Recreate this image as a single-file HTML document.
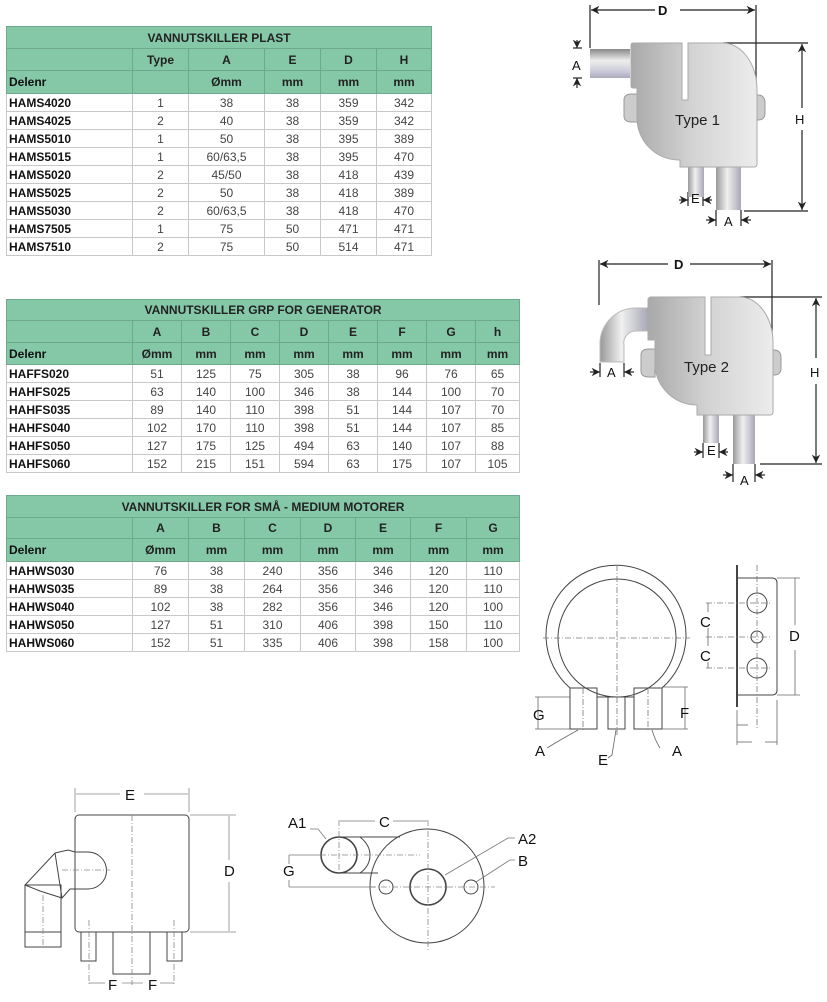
<!DOCTYPE html>
<html><head><meta charset="utf-8"><style>
body{margin:0;width:827px;height:1002px;background:#fff;position:relative;overflow:hidden;font-family:"Liberation Sans",sans-serif}
table{position:absolute;border-collapse:collapse;table-layout:fixed;font-size:12px;color:#222}
td{border:1px solid #c8c8c8;text-align:center;padding:0;line-height:1;white-space:nowrap;overflow:hidden}
tr.t td{background:#85c8a8;font-weight:bold;border-color:#6fa98c}
tr.h td{background:#85c8a8;font-weight:bold;border-color:#6fa98c}
td.n{text-align:left;font-weight:bold;padding-left:2px;color:#111}
tr.d td:not(.n){color:#444}
svg{position:absolute;left:0;top:0}
</style></head><body>

<table style="left:6px;top:26px;width:425px">
<colgroup><col style="width:126px"><col style="width:56px"><col style="width:76px"><col style="width:56px"><col style="width:56px"><col style="width:55px"></colgroup>
<tr class="t" style="height:22px"><td colspan="6">VANNUTSKILLER PLAST</td></tr>
<tr class="h" style="height:22px"><td></td><td>Type</td><td>A</td><td>E</td><td>D</td><td>H</td></tr>
<tr class="h" style="height:23px"><td class="n">Delenr</td><td></td><td>Ømm</td><td>mm</td><td>mm</td><td>mm</td></tr>
<tr class="d" style="height:18px"><td class="n">HAMS4020</td><td>1</td><td>38</td><td>38</td><td>359</td><td>342</td></tr>
<tr class="d" style="height:18px"><td class="n">HAMS4025</td><td>2</td><td>40</td><td>38</td><td>359</td><td>342</td></tr>
<tr class="d" style="height:18px"><td class="n">HAMS5010</td><td>1</td><td>50</td><td>38</td><td>395</td><td>389</td></tr>
<tr class="d" style="height:18px"><td class="n">HAMS5015</td><td>1</td><td>60/63,5</td><td>38</td><td>395</td><td>470</td></tr>
<tr class="d" style="height:18px"><td class="n">HAMS5020</td><td>2</td><td>45/50</td><td>38</td><td>418</td><td>439</td></tr>
<tr class="d" style="height:18px"><td class="n">HAMS5025</td><td>2</td><td>50</td><td>38</td><td>418</td><td>389</td></tr>
<tr class="d" style="height:18px"><td class="n">HAMS5030</td><td>2</td><td>60/63,5</td><td>38</td><td>418</td><td>470</td></tr>
<tr class="d" style="height:18px"><td class="n">HAMS7505</td><td>1</td><td>75</td><td>50</td><td>471</td><td>471</td></tr>
<tr class="d" style="height:18px"><td class="n">HAMS7510</td><td>2</td><td>75</td><td>50</td><td>514</td><td>471</td></tr>
</table>

<table style="left:6px;top:299px;width:513px">
<colgroup><col style="width:126px"><col style="width:49px"><col style="width:49px"><col style="width:49px"><col style="width:49px"><col style="width:49px"><col style="width:49px"><col style="width:49px"><col style="width:44px"></colgroup>
<tr class="t" style="height:21px"><td colspan="9">VANNUTSKILLER GRP FOR GENERATOR</td></tr>
<tr class="h" style="height:22px"><td></td><td>A</td><td>B</td><td>C</td><td>D</td><td>E</td><td>F</td><td>G</td><td>h</td></tr>
<tr class="h" style="height:22px"><td class="n">Delenr</td><td>Ømm</td><td>mm</td><td>mm</td><td>mm</td><td>mm</td><td>mm</td><td>mm</td><td>mm</td></tr>
<tr class="d" style="height:18px"><td class="n">HAFFS020</td><td>51</td><td>125</td><td>75</td><td>305</td><td>38</td><td>96</td><td>76</td><td>65</td></tr>
<tr class="d" style="height:18px"><td class="n">HAHFS025</td><td>63</td><td>140</td><td>100</td><td>346</td><td>38</td><td>144</td><td>100</td><td>70</td></tr>
<tr class="d" style="height:18px"><td class="n">HAHFS035</td><td>89</td><td>140</td><td>110</td><td>398</td><td>51</td><td>144</td><td>107</td><td>70</td></tr>
<tr class="d" style="height:18px"><td class="n">HAHFS040</td><td>102</td><td>170</td><td>110</td><td>398</td><td>51</td><td>144</td><td>107</td><td>85</td></tr>
<tr class="d" style="height:18px"><td class="n">HAHFS050</td><td>127</td><td>175</td><td>125</td><td>494</td><td>63</td><td>140</td><td>107</td><td>88</td></tr>
<tr class="d" style="height:18px"><td class="n">HAHFS060</td><td>152</td><td>215</td><td>151</td><td>594</td><td>63</td><td>175</td><td>107</td><td>105</td></tr>
</table>

<table style="left:6px;top:495px;width:513px">
<colgroup><col style="width:126px"><col style="width:56px"><col style="width:56px"><col style="width:56px"><col style="width:55px"><col style="width:55px"><col style="width:56px"><col style="width:53px"></colgroup>
<tr class="t" style="height:22px"><td colspan="8">VANNUTSKILLER FOR SMÅ - MEDIUM MOTORER</td></tr>
<tr class="h" style="height:21px"><td></td><td>A</td><td>B</td><td>C</td><td>D</td><td>E</td><td>F</td><td>G</td></tr>
<tr class="h" style="height:23px"><td class="n">Delenr</td><td>Ømm</td><td>mm</td><td>mm</td><td>mm</td><td>mm</td><td>mm</td><td>mm</td></tr>
<tr class="d" style="height:18px"><td class="n">HAHWS030</td><td>76</td><td>38</td><td>240</td><td>356</td><td>346</td><td>120</td><td>110</td></tr>
<tr class="d" style="height:18px"><td class="n">HAHWS035</td><td>89</td><td>38</td><td>264</td><td>356</td><td>346</td><td>120</td><td>110</td></tr>
<tr class="d" style="height:18px"><td class="n">HAHWS040</td><td>102</td><td>38</td><td>282</td><td>356</td><td>346</td><td>120</td><td>100</td></tr>
<tr class="d" style="height:18px"><td class="n">HAHWS050</td><td>127</td><td>51</td><td>310</td><td>406</td><td>398</td><td>150</td><td>110</td></tr>
<tr class="d" style="height:18px"><td class="n">HAHWS060</td><td>152</td><td>51</td><td>335</td><td>406</td><td>398</td><td>158</td><td>100</td></tr>
</table>

<svg width="827" height="1002" viewBox="0 0 827 1002" font-family="Liberation Sans, sans-serif">
<defs>
<linearGradient id="bg" x1="0" x2="1"><stop offset="0" stop-color="#a9a9a9"/><stop offset=".5" stop-color="#d4d4d4"/><stop offset="1" stop-color="#ececec"/></linearGradient>
<linearGradient id="pv" x1="0" x2="0" y1="0" y2="1"><stop offset="0" stop-color="#888"/><stop offset=".4" stop-color="#eee"/><stop offset=".8" stop-color="#c8c8d8"/><stop offset="1" stop-color="#aab"/></linearGradient>
<linearGradient id="ph" x1="0" x2="1"><stop offset="0" stop-color="#999"/><stop offset=".45" stop-color="#f0f0f0"/><stop offset="1" stop-color="#a8a8b8"/></linearGradient>
<marker id="ar" viewBox="0 0 10 10" refX="10" refY="5" markerWidth="7" markerHeight="7" orient="auto-start-reverse"><path d="M0,0L10,5L0,10L3,5z" fill="#222"/></marker>
</defs>

<!-- TYPE 1 -->
<g stroke="#222" stroke-width="1.2" fill="none">
<line x1="590" y1="5" x2="590" y2="48"/><line x1="756" y1="5" x2="756" y2="92"/>
<line x1="591" y1="10" x2="655" y2="10" marker-start="url(#ar)"/><line x1="680" y1="10" x2="755" y2="10" marker-end="url(#ar)"/>
<line x1="723" y1="43" x2="808" y2="43"/><line x1="744" y1="211" x2="808" y2="211"/>
<line x1="802" y1="44" x2="802" y2="108" marker-start="url(#ar)"/><line x1="802" y1="130" x2="802" y2="210" marker-end="url(#ar)"/>
<line x1="573" y1="48" x2="582" y2="48"/><line x1="573" y1="78" x2="582" y2="78"/>
<line x1="577" y1="40" x2="577" y2="48" marker-end="url(#ar)"/><line x1="577" y1="88" x2="577" y2="78" marker-end="url(#ar)"/>
<line x1="688" y1="192" x2="688" y2="206"/><line x1="703" y1="192" x2="703" y2="206"/>
<line x1="679" y1="200" x2="688" y2="200" marker-end="url(#ar)"/><line x1="712" y1="200" x2="703" y2="200" marker-end="url(#ar)"/>
<line x1="716" y1="210" x2="716" y2="226"/><line x1="741" y1="210" x2="741" y2="226"/>
<line x1="706" y1="220" x2="716" y2="220" marker-end="url(#ar)"/><line x1="751" y1="220" x2="741" y2="220" marker-end="url(#ar)"/>
</g>
<rect x="590" y="49" width="40" height="29" fill="url(#pv)"/>
<rect x="688" y="167" width="16" height="30" fill="url(#ph)"/>
<rect x="716" y="167" width="25" height="43" fill="url(#ph)"/>
<path d="M624,100 q0,-6 8,-6 h6 v28 h-6 q-8,0 -8,-6z M752,95 h6 q7,0 7,8 v10 q0,7 -7,7 h-6z" fill="#ccc" stroke="#999"/>
<path d="M633,43 H682 V100 H688 V43 H723 A34,47 0 0 1 757,90 V164 q0,3 -3,3 H680 V160 A42,42 0 0 1 637,118 V88 H633 q-2,0 -2,-2 V46 q0,-3 2,-3z" fill="url(#bg)" stroke="#aaa"/>
<g fill="#111" font-size="13"><text x="658" y="15" font-weight="bold">D</text><text x="572" y="70">A</text><text x="795" y="124">H</text><text x="691" y="203">E</text><text x="724" y="226">A</text></g>
<text x="675" y="125" font-size="15" fill="#222">Type 1</text>

<!-- TYPE 2 -->
<g stroke="#222" stroke-width="1.2" fill="none">
<line x1="599" y1="260" x2="599" y2="305"/><line x1="772" y1="260" x2="772" y2="343"/>
<line x1="600" y1="264" x2="668" y2="264" marker-start="url(#ar)"/><line x1="690" y1="264" x2="771" y2="264" marker-end="url(#ar)"/>
<line x1="740" y1="297" x2="822" y2="297"/><line x1="760" y1="464" x2="822" y2="464"/>
<line x1="816" y1="298" x2="816" y2="358" marker-start="url(#ar)"/><line x1="816" y1="384" x2="816" y2="463" marker-end="url(#ar)"/>
<line x1="600" y1="363" x2="600" y2="377"/><line x1="624" y1="363" x2="624" y2="377"/>
<line x1="590" y1="372" x2="600" y2="372" marker-end="url(#ar)"/><line x1="634" y1="372" x2="624" y2="372" marker-end="url(#ar)"/>
<line x1="703" y1="443" x2="703" y2="458"/><line x1="719" y1="443" x2="719" y2="458"/>
<line x1="694" y1="452" x2="703" y2="452" marker-end="url(#ar)"/><line x1="728" y1="452" x2="719" y2="452" marker-end="url(#ar)"/>
<line x1="733" y1="464" x2="733" y2="482"/><line x1="755" y1="464" x2="755" y2="482"/>
<line x1="723" y1="475" x2="733" y2="475" marker-end="url(#ar)"/><line x1="765" y1="475" x2="755" y2="475" marker-end="url(#ar)"/>
</g>
<path d="M648,308 H635 A36,36 0 0 0 600,345 V362 H624 V345 A12,12 0 0 1 636,331 H648z" fill="url(#ph)" stroke="#bbb"/>
<rect x="703" y="415" width="16" height="28" fill="url(#ph)"/>
<rect x="733" y="415" width="22" height="49" fill="url(#ph)"/>
<path d="M641,355 q0,-6 8,-6 h6 v28 h-6 q-8,0 -8,-6z M768,350 h6 q7,0 7,8 v10 q0,7 -7,7 h-6z" fill="#ccc" stroke="#999"/>
<path d="M650,297 H705 V355 H711 V297 H740 A33,46 0 0 1 773,343 V412 q0,3 -3,3 H697 V405 A42,42 0 0 1 655,365 V340 H648 V299z" fill="url(#bg)" stroke="#aaa"/>
<g fill="#111" font-size="13"><text x="674" y="269" font-weight="bold">D</text><text x="607" y="377">A</text><text x="810" y="377">H</text><text x="707" y="455">E</text><text x="740" y="485">A</text></g>
<text x="684" y="372" font-size="15" fill="#222">Type 2</text>

<!-- round front view -->
<g stroke="#444" stroke-width="1" fill="none">
<path d="M570,688 A70,70 0 1 1 662,688"/>
<circle cx="617" cy="638" r="59"/>
<rect x="570" y="688" width="27" height="41"/><rect x="608" y="697" width="17" height="32"/><rect x="634" y="688" width="28" height="41"/>
<path d="M597,697 H608 M625,697 H634"/>
<g stroke="#777" stroke-width=".8" stroke-dasharray="6,2,1,2"><line x1="617" y1="565" x2="617" y2="735"/><line x1="543" y1="638" x2="690" y2="638"/><line x1="583" y1="688" x2="583" y2="732"/><line x1="648" y1="688" x2="648" y2="732"/></g>
<g stroke="#666" stroke-width=".8"><line x1="535" y1="697" x2="570" y2="697"/><line x1="535" y1="729" x2="570" y2="729"/><line x1="538" y1="697" x2="538" y2="729"/>
<line x1="662" y1="687" x2="688" y2="687"/><line x1="662" y1="729" x2="688" y2="729"/><line x1="685" y1="687" x2="685" y2="729"/>
<path d="M547,748 Q560,740 578,730 M608,758 L612,755 L616,730 M660,748 Q655,740 652,730"/></g>
<line x1="737" y1="565" x2="737" y2="707" stroke-width="2"/>
<path d="M737,578 H772 q5,0 5,5 V690 q0,5 -5,5 H737"/>
<circle cx="757" cy="603" r="10"/><circle cx="757" cy="637" r="6"/><circle cx="757" cy="668" r="10"/>
<g stroke="#777" stroke-width=".8" stroke-dasharray="6,2,1,2"><line x1="757" y1="565" x2="757" y2="730"/><line x1="706" y1="603" x2="772" y2="603"/><line x1="706" y1="637" x2="772" y2="637"/><line x1="706" y1="668" x2="772" y2="668"/></g>
<g stroke="#666" stroke-width=".8"><line x1="777" y1="578" x2="800" y2="578"/><line x1="777" y1="695" x2="800" y2="695"/><line x1="795" y1="578" x2="795" y2="625"/><line x1="795" y1="650" x2="795" y2="695"/>
<line x1="708" y1="603" x2="708" y2="612"/><line x1="708" y1="628" x2="708" y2="646"/><line x1="708" y1="662" x2="708" y2="668"/>
<line x1="737" y1="710" x2="737" y2="745"/><line x1="777" y1="700" x2="777" y2="745"/><line x1="737" y1="725" x2="748" y2="725"/><line x1="737" y1="742" x2="752" y2="742"/><line x1="765" y1="742" x2="777" y2="742"/></g>
</g>
<g fill="#111" font-size="15"><text x="533" y="720">G</text><text x="680" y="718">F</text><text x="535" y="756">A</text><text x="598" y="765">E</text><text x="672" y="756">A</text><text x="700" y="627">C</text><text x="700" y="661">C</text><text x="789" y="641">D</text></g>

<!-- bottom left -->
<g stroke="#444" stroke-width="1" fill="none">
<rect x="75" y="815" width="114" height="117" rx="4"/>
<path d="M75,852 H88 A18,18 0 0 1 88,889 H75"/>
<path d="M55,853 L25,885 L40,891 L62,898 L70,889 L75,889 M55,853 L62,898 M55,853 L68,850 L75,852"/>
<rect x="25" y="885" width="36" height="62"/><line x1="25" y1="932" x2="61" y2="932"/>
<rect x="81" y="932" width="15" height="29"/><rect x="113" y="932" width="37" height="42"/><rect x="167" y="932" width="15" height="29"/>
<g stroke="#888" stroke-width=".8" stroke-dasharray="6,2,1,2"><line x1="132" y1="815" x2="132" y2="985"/><line x1="62" y1="870" x2="110" y2="870"/><line x1="43" y1="895" x2="43" y2="945"/><line x1="89" y1="920" x2="89" y2="985"/><line x1="174" y1="920" x2="174" y2="985"/></g>
<g stroke="#888" stroke-width=".8"><line x1="75" y1="788" x2="75" y2="812"/><line x1="189" y1="788" x2="189" y2="812"/><line x1="76" y1="794" x2="120" y2="794"/><line x1="144" y1="794" x2="188" y2="794"/>
<line x1="190" y1="815" x2="236" y2="815"/><line x1="190" y1="932" x2="236" y2="932"/><line x1="229" y1="816" x2="229" y2="860"/><line x1="229" y1="882" x2="229" y2="931"/>
<line x1="89" y1="983" x2="105" y2="983"/><line x1="122" y1="983" x2="143" y2="983"/><line x1="160" y1="983" x2="174" y2="983"/></g>
</g>
<g fill="#111" font-size="15"><text x="125" y="800">E</text><text x="224" y="876">D</text><text x="108" y="990">F</text><text x="148" y="990">F</text></g>

<!-- bottom right -->
<g stroke="#444" stroke-width="1" fill="none">
<circle cx="427" cy="886" r="57"/>
<circle cx="428" cy="887" r="18" stroke-width="1.6"/><circle cx="386" cy="887" r="7"/><circle cx="471" cy="887" r="7"/>
<circle cx="339" cy="855" r="18" stroke-width="1.6"/>
<path d="M339,837 H360 Q370,845 370,855 Q370,866 360,873 H339 M360,837 H400 M360,873 H378"/>
<g stroke="#888" stroke-width=".8" stroke-dasharray="6,2,1,2"><line x1="428" y1="820" x2="428" y2="952"/><line x1="370" y1="887" x2="495" y2="887"/><line x1="320" y1="855" x2="420" y2="855"/><line x1="339" y1="820" x2="339" y2="873"/></g>
<g stroke="#777" stroke-width=".8"><line x1="289" y1="855" x2="322" y2="855"/><line x1="289" y1="887" x2="375" y2="887"/><line x1="289" y1="855" x2="289" y2="864"/><line x1="289" y1="880" x2="289" y2="887"/>
<line x1="340" y1="821" x2="375" y2="821"/><line x1="393" y1="821" x2="427" y2="821"/>
<path d="M310,829 H318 L326,839 M515,838 H508 L445,875 M515,860 H510 L476,882"/></g>
</g>
<g fill="#111" font-size="15"><text x="288" y="828">A1</text><text x="379" y="827">C</text><text x="283" y="876">G</text><text x="518" y="844">A2</text><text x="518" y="866">B</text></g>
</svg>
</body></html>
